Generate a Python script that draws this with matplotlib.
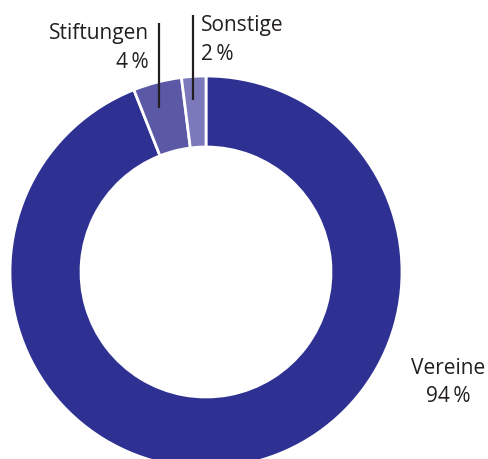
import matplotlib
matplotlib.use("Agg")
import matplotlib.pyplot as plt

categories = ["Vereine", "Stiftungen", "Sonstige"]
values = [94, 4, 2]
pct_labels = ["94\u2009%", "4\u2009%", "2\u2009%"]
colors = ["#2e3192", "#5b58a5", "#7b78bb"]

W, H = 489, 459
fig = plt.figure(figsize=(W / 100, H / 100), dpi=100)
ax = fig.add_axes([0, 0, 1, 1])

cx, cy = 206, H - 272
R, r_in = 196, 125
ax.pie(values, colors=colors, startangle=90, counterclock=False,
       radius=R, center=(cx, cy), frame=True,
       wedgeprops=dict(width=R - r_in, edgecolor="white", linewidth=2))
ax.set_xlim(0, W)
ax.set_ylim(0, H)
ax.set_aspect("equal")
ax.axis("off")

fam = ["Open Sans", "DejaVu Sans"]
tc = "#231f20"
fs = 15

# Vereine label
ax.text(448, H - 368, categories[0], ha="center", va="center", fontsize=fs, color=tc, family=fam)
ax.text(448, H - 397, pct_labels[0], ha="center", va="center", fontsize=fs, color=tc, family=fam)

# Stiftungen label + leader
ax.plot([159, 159], [H - 23, H - 108], color="#231f20", lw=1.6, solid_capstyle="butt")
ax.text(149, H - 33, categories[1], ha="right", va="center", fontsize=fs, color=tc, family=fam)
ax.text(149, H - 62, pct_labels[1], ha="right", va="center", fontsize=fs, color=tc, family=fam)

# Sonstige label + leader
ax.plot([193, 193], [H - 15, H - 100], color="#231f20", lw=1.6, solid_capstyle="butt")
ax.text(201, H - 25, categories[2], ha="left", va="center", fontsize=fs, color=tc, family=fam)
ax.text(201, H - 55, pct_labels[2], ha="left", va="center", fontsize=fs, color=tc, family=fam)

fig.savefig("out.png", dpi=100)
